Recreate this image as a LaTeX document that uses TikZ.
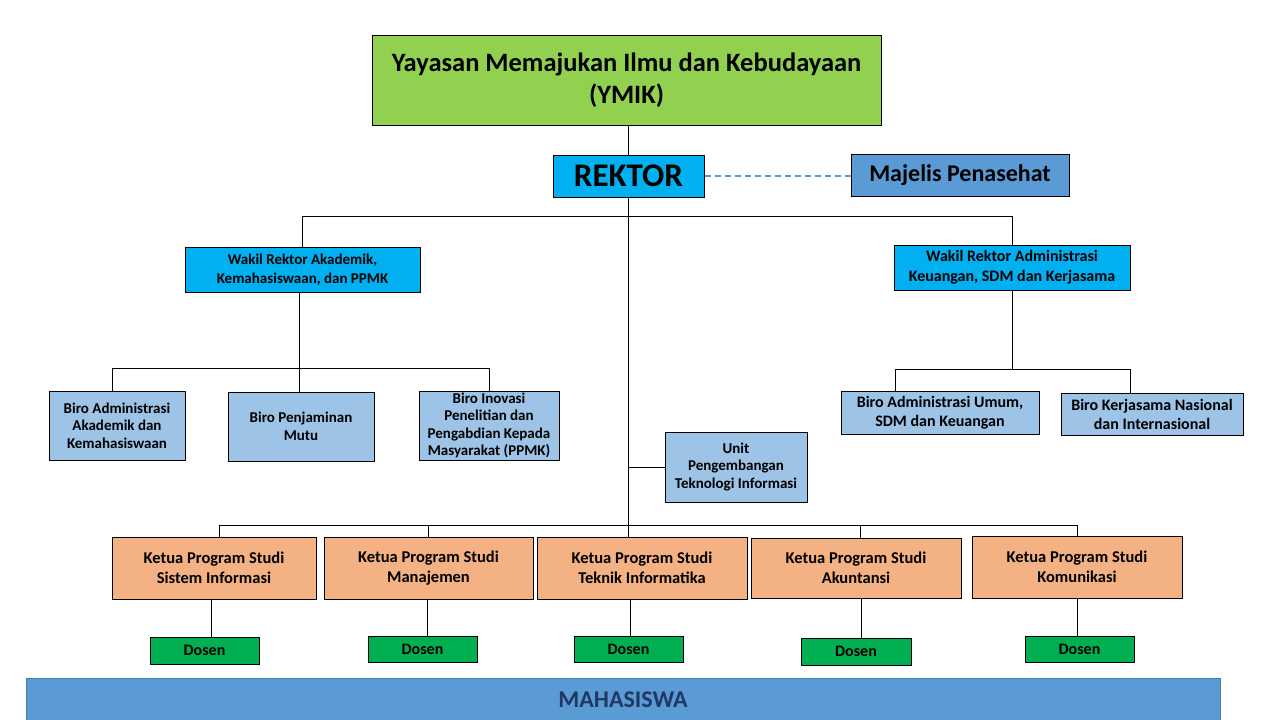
\documentclass[tikz,border=0pt]{standalone}
\usepackage{fontspec}
\setmainfont{Carlito}
\definecolor{ymikgreen}{HTML}{92D050}
\definecolor{cyanbox}{HTML}{00B0F0}
\definecolor{midblue}{HTML}{5B9BD5}
\definecolor{lightblue}{HTML}{9DC3E6}
\definecolor{peach}{HTML}{F4B183}
\definecolor{dosengreen}{HTML}{00B050}
\definecolor{darknavy}{HTML}{1F3864}
\tikzset{
  box/.style={draw=black, line width=1pt, inner sep=0pt, align=center},
  conn/.style={draw=black, line width=1pt},
}
\newcommand{\bx}[8]{% name, x1, y1, x2, y2, fill, font, text
  \node[box, fill=#6, font={\bfseries#7}, minimum width={#4-#2}, minimum height={#5-#3}] (#1) at ({(#2+#4)/2},{(#3+#5)/2}) {#8};}
\begin{document}
\begin{tikzpicture}[x=1pt,y=-1pt]
\useasboundingbox[fill=white] (0,0) rectangle (1280,720);
% top
\bx{ymik}{372}{35}{881}{125}{ymikgreen}{\fontsize{26.5}{32}\selectfont}{Yayasan Memajukan Ilmu dan Kebudayaan\\(YMIK)}
\bx{rektor}{553}{155}{704}{197}{cyanbox}{\fontsize{33}{36}\selectfont}{REKTOR}
\bx{majelis}{851}{154}{1069}{196}{midblue}{\fontsize{24}{28}\selectfont}{Majelis Penasehat}
% wakil
\bx{wra}{185}{247}{420}{292}{cyanbox}{\fontsize{15}{18.5}\selectfont}{Wakil Rektor Akademik,\\Kemahasiswaan, dan PPMK}
\bx{wrb}{894}{245}{1130}{290}{cyanbox}{\fontsize{16}{20}\selectfont}{Wakil Rektor Administrasi\\Keuangan, SDM dan Kerjasama}
% biro
\bx{biroa}{49}{391}{185}{460}{lightblue}{\fontsize{15}{17.5}\selectfont}{Biro Administrasi\\Akademik dan\\Kemahasiswaan}
\bx{birop}{228}{392}{374}{461}{lightblue}{\fontsize{15}{17.5}\selectfont}{Biro Penjaminan\\Mutu}
\bx{biroi}{419}{391}{559}{460}{lightblue}{\fontsize{15}{17.5}\selectfont}{Biro Inovasi\\Penelitian dan\\Pengabdian Kepada\\Masyarakat (PPMK)}
\bx{birou}{841}{391}{1039}{434}{lightblue}{\fontsize{16}{19}\selectfont}{Biro Administrasi Umum,\\SDM dan Keuangan}
\bx{birok}{1061}{393}{1243}{435}{lightblue}{\fontsize{16}{19}\selectfont}{Biro Kerjasama Nasional\\dan Internasional}
\bx{unit}{665}{432}{807}{502}{lightblue}{\fontsize{15}{17.5}\selectfont}{Unit\\Pengembangan\\Teknologi Informasi}
% ketua
\bx{ksi}{112}{537}{316}{599}{peach}{\fontsize{16.5}{20}\selectfont}{Ketua Program Studi\\Sistem Informasi}
\bx{kmj}{324}{537}{533}{599}{peach}{\fontsize{16.5}{20}\selectfont}{Ketua Program Studi\\Manajemen}
\bx{kti}{537}{537}{747}{599}{peach}{\fontsize{16.5}{20}\selectfont}{Ketua Program Studi\\Teknik Informatika}
\bx{kak}{751}{538}{961}{598}{peach}{\fontsize{16.5}{20}\selectfont}{Ketua Program Studi\\Akuntansi}
\bx{kkm}{972}{536}{1182}{598}{peach}{\fontsize{16.5}{20}\selectfont}{Ketua Program Studi\\Komunikasi}
% dosen
\bx{d1}{150}{637}{259}{664}{dosengreen}{\fontsize{16}{18}\selectfont}{Dosen}
\bx{d2}{368}{636}{477}{662}{dosengreen}{\fontsize{16}{18}\selectfont}{Dosen}
\bx{d3}{574}{636}{683}{662}{dosengreen}{\fontsize{16}{18}\selectfont}{Dosen}
\bx{d4}{801}{638}{911}{665}{dosengreen}{\fontsize{16}{18}\selectfont}{Dosen}
\bx{d5}{1025}{636}{1134}{662}{dosengreen}{\fontsize{16}{18}\selectfont}{Dosen}
% mahasiswa
\node[fill=midblue, draw=midblue!80!black, line width=0.6pt, minimum width=1194, minimum height=44, inner sep=0pt, font=\bfseries\fontsize{24}{28}\selectfont, text=darknavy] (maha) at (623,700) {MAHASISWA};
% connectors
\coordinate (hA) at (0,216);
\coordinate (hB) at (0,368);
\coordinate (hC) at (0,369);
\coordinate (hK) at (0,525);
\draw[conn] (rektor.north |- ymik.south) -- (rektor.north);
\draw[midblue, line width=1.3pt, dash pattern=on 6pt off 4pt] (rektor.east) -- (rektor.east -| majelis.west);
\draw[conn] (rektor.south) -- (rektor.south |- hK);
\draw[conn] (wra.north) -- (wra.north |- hA) -- (wrb.north |- hA) -- (wrb.north);
% left branch
\draw[conn] ([xshift=-3]wra.south) -- ([xshift=-3]wra.south |- birop.north);
\draw[conn] ([xshift=-5]biroa.north) -- ([xshift=-5]biroa.north |- hB) -- (biroi.north |- hB) -- (biroi.north);
% right branch
\draw[conn] (wrb.south) -- (wrb.south |- hC);
\draw[conn] ([xshift=-45]birou.north) -- ([xshift=-45]birou.north |- hC) -- ([xshift=-22]birok.north |- hC) -- ([xshift=-22]birok.north);
% unit
\draw[conn] (unit.west) -- (unit.west -| rektor.south);
% ketua bus
\draw[conn] ([xshift=5]ksi.north) -- ([xshift=5]ksi.north |- hK) -- (kkm.north |- hK) -- (kkm.north);
\draw[conn] (kmj.north |- hK) -- (kmj.north);
\draw[conn] (rektor.south |- hK) -- (rektor.south |- kti.north);
\draw[conn] ([xshift=4]kak.north |- hK) -- ([xshift=4]kak.north);
% dosen
\draw[conn] ([xshift=-3]ksi.south) -- ([xshift=-3]ksi.south |- d1.north);
\draw[conn] ([xshift=-1]kmj.south) -- ([xshift=-1]kmj.south |- d2.north);
\draw[conn] ([xshift=-12]kti.south) -- ([xshift=-12]kti.south |- d3.north);
\draw[conn] ([xshift=5]kak.south) -- ([xshift=5]kak.south |- d4.north);
\draw[conn] (kkm.south) -- (kkm.south |- d5.north);
\end{tikzpicture}
\end{document}
